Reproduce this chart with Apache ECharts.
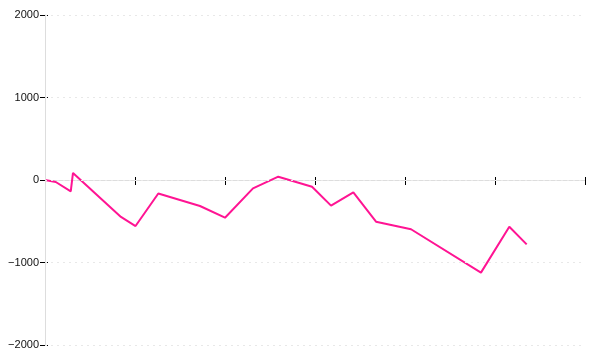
<!DOCTYPE html>
<html>
<head>
<meta charset="utf-8">
<script src="https://cdn.jsdelivr.net/npm/echarts@6/dist/echarts.min.js"></script>
<style>html,body{margin:0;padding:0;background:#fff}#c{width:600px;height:360px}</style>
</head>
<body>
<div id="c"></div>
<script>
var xValues = [0, 0.12, 0.286, 0.311, 0.844, 1.006, 1.259, 1.722, 2.0, 2.311, 2.592, 2.967, 3.178, 3.426, 3.678, 4.067, 4.844, 5.159, 5.352];
var yValues = [0, -24, -137, 85, -448, -558, -164, -315, -457, -101, 40, -81, -311, -149, -505, -597, -1123, -566, -780];
var yTicks = [-2000, -1000, 0, 1000, 2000];

var data = xValues.map(function (x, i) { return [x, yValues[i]]; });
var chart = echarts.init(document.getElementById('c'), null, {renderer: 'canvas'});
var yMin = yTicks[0], yMax = yTicks[yTicks.length - 1];
function fmt(v) { return v < 0 ? '\u2212' + String(-v) : String(v); }
chart.setOption({
  animation: false,
  grid: {left: 45, right: 15, top: 15, bottom: 15},
  xAxis: [{
    type: 'value', min: 0, max: 6, interval: 1, position: 'bottom',
    axisLine: {show: true, onZero: true, lineStyle: {color: '#dddddd', width: 1}},
    axisTick: {show: true, inside: false, length: 5, lineStyle: {color: '#000', width: 1}},
    axisLabel: {show: false},
    splitLine: {show: false}
  }, {
    type: 'value', min: 0, max: 6, interval: 1, position: 'top',
    axisLine: {show: true, onZero: true, lineStyle: {color: '#dddddd', width: 1}},
    axisTick: {show: true, inside: false, length: 3, lineStyle: {color: '#000', width: 1}},
    axisLabel: {show: false},
    splitLine: {show: false}
  }],
  yAxis: [{
    type: 'value', min: yMin, max: yMax, interval: 1000, position: 'left', z: 5,
    axisLine: {show: true, onZero: false, lineStyle: {color: '#dddddd', width: 1}},
    axisTick: {show: false},
    axisLabel: {show: true, margin: 6, color: '#111', fontSize: 11, fontFamily: 'Liberation Sans, Arial, sans-serif', formatter: fmt},
    splitLine: {show: true, lineStyle: {color: '#e8e8e8', type: [2, 4], width: 1}}
  }, {
    type: 'value', min: yMin, max: yMax, interval: 1000, position: 'left', offset: -3, z: 2,
    axisLine: {show: false, onZero: false},
    axisTick: {show: true, inside: false, length: 8, lineStyle: {color: '#000', width: 1}},
    axisLabel: {show: false},
    splitLine: {show: false}
  }],
  series: [{
    type: 'line',
    xAxisIndex: 0, yAxisIndex: 0,
    data: data,
    showSymbol: false,
    symbol: 'none',
    lineStyle: {color: '#ff1493', width: 2},
    itemStyle: {color: '#ff1493'}
  }]
});
</script>
</body>
</html>
